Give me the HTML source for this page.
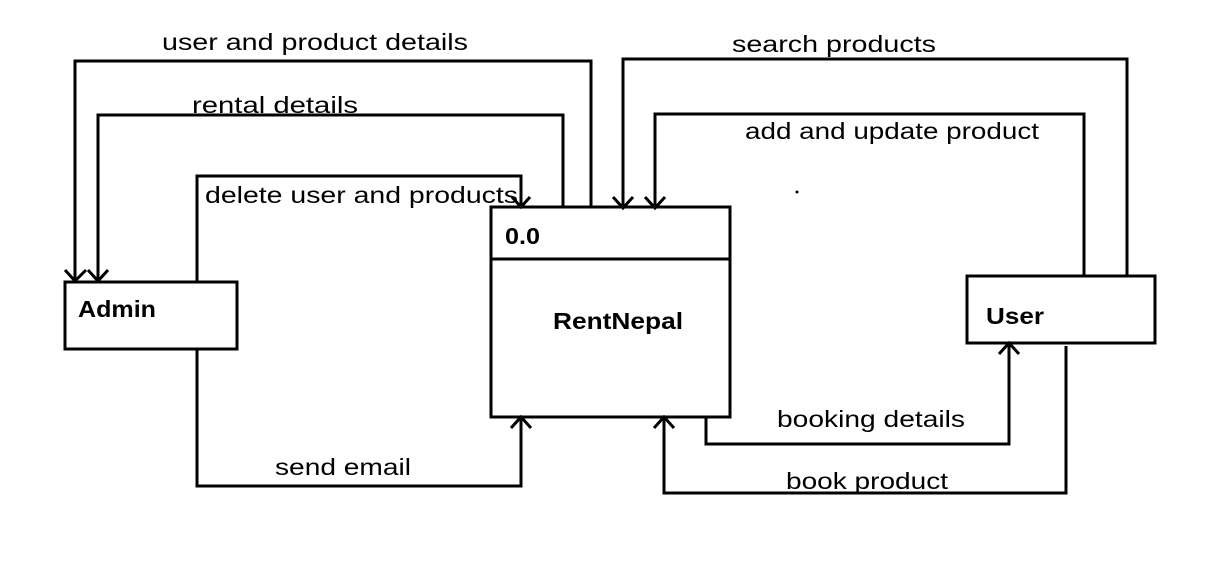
<!DOCTYPE html>
<html><head><meta charset="utf-8"><style>
html,body{margin:0;padding:0;background:#fff;}
svg{display:block;}
text{font-family:"Liberation Sans",sans-serif;font-size:23px;fill:#000;}
.b{font-weight:bold;}
</style></head><body>
<svg width="1224" height="567" viewBox="0 0 1224 567" xmlns="http://www.w3.org/2000/svg">
<g fill="none" stroke="#000" stroke-width="3">
<rect x="65" y="282" width="172" height="67"/>
<rect x="491" y="207" width="239" height="210"/>
<line x1="491" y1="259" x2="730" y2="259"/>
<rect x="967" y="276" width="188" height="67"/>
<polyline points="591,207 591,61 75,61 75,281"/>
<polyline points="65,270 75,281 86,270"/>
<polyline points="563,208 563,115 98,115 98,281"/>
<polyline points="88,270 98,281 108,270"/>
<polyline points="197,281 197,176 521,176 521,207"/>
<polyline points="512,197 521,207 530,197"/>
<polyline points="197,349 197,486 521,486 521,417"/>
<polyline points="511,428 521,417 531,428"/>
<polyline points="1127,276 1127,59 623,59 623,208"/>
<polyline points="613,197 623,208 633,197"/>
<polyline points="1084,276 1084,114 655,114 655,208"/>
<polyline points="645,197 655,208 665,197"/>
<polyline points="706,417 706,444 1009,444 1009,343"/>
<polyline points="999,354 1009,343 1019,354"/>
<polyline points="1066,346 1066,493 664,493 664,417"/>
<polyline points="654,428 664,417 674,428"/>
</g>
<circle cx="797" cy="192" r="1.5" fill="#000"/>
<text x="162" y="50" textLength="306" lengthAdjust="spacingAndGlyphs">user and product details</text>
<text x="192" y="113" textLength="166" lengthAdjust="spacingAndGlyphs">rental details</text>
<text x="205" y="203" textLength="313" lengthAdjust="spacingAndGlyphs">delete user and products</text>
<text x="275" y="475" textLength="136" lengthAdjust="spacingAndGlyphs">send email</text>
<text x="732" y="52" textLength="204" lengthAdjust="spacingAndGlyphs">search products</text>
<text x="745" y="139" textLength="294" lengthAdjust="spacingAndGlyphs">add and update product</text>
<text x="777" y="427" textLength="188" lengthAdjust="spacingAndGlyphs">booking details</text>
<text x="786" y="489" textLength="162" lengthAdjust="spacingAndGlyphs">book product</text>
<text class="b" x="78" y="317" textLength="78" lengthAdjust="spacingAndGlyphs">Admin</text>
<text class="b" x="505" y="244" textLength="35" lengthAdjust="spacingAndGlyphs">0.0</text>
<text class="b" x="553" y="329" textLength="130" lengthAdjust="spacingAndGlyphs">RentNepal</text>
<text class="b" x="986" y="324" textLength="58" lengthAdjust="spacingAndGlyphs">User</text>
</svg>
</body></html>
